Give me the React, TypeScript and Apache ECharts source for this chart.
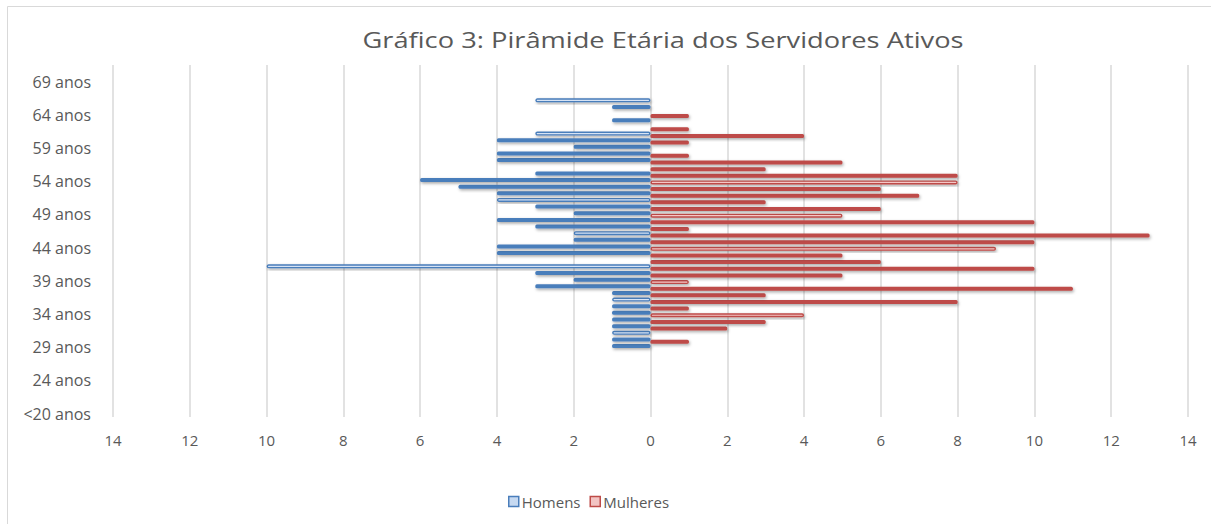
import React, { useEffect, useRef } from "react";
import * as echarts from "echarts";

const categories = [
  "<20 anos", "20 anos", "21 anos", "22 anos", "23 anos", "24 anos", "25 anos", "26 anos", "27 anos", "28 anos",
  "29 anos", "30 anos", "31 anos", "32 anos", "33 anos", "34 anos", "35 anos", "36 anos", "37 anos", "38 anos",
  "39 anos", "40 anos", "41 anos", "42 anos", "43 anos", "44 anos", "45 anos", "46 anos", "47 anos", "48 anos",
  "49 anos", "50 anos", "51 anos", "52 anos", "53 anos", "54 anos", "55 anos", "56 anos", "57 anos", "58 anos",
  "59 anos", "60 anos", "61 anos", "62 anos", "63 anos", "64 anos", "65 anos", "66 anos", "67 anos", "68 anos",
  "69 anos", "70 anos", ">70 anos",
];

const homens = [
  0, 0, 0, 0, 0, 0, 0, 0, 0, 0,
  1, 1, 1, 1, 1, 1, 1, 1, 1, 3,
  2, 3, 10, 0, 4, 4, 2, 2, 3, 4,
  2, 3, 4, 4, 5, 6, 3, 0, 4, 4,
  2, 4, 3, 0, 1, 0, 1, 3, 0, 0,
  0, 0, 0,
];

const mulheres = [
  0, 0, 0, 0, 0, 0, 0, 0, 0, 0,
  0, 1, 0, 2, 3, 4, 1, 8, 3, 11,
  1, 5, 10, 6, 5, 9, 10, 13, 1, 10,
  5, 6, 3, 7, 6, 8, 8, 3, 5, 1,
  0, 1, 4, 1, 0, 1, 0, 0, 0, 0,
  0, 0, 0,
];

const xTicks = { min: -14, max: 14, interval: 2 };

const title = "Gráfico 3: Pirâmide Etária dos Servidores Ativos";

// bars drawn with an outlined style in the reference
const homensOutlined = [12, 17, 22, 27, 32, 42, 47];
const mulheresOutlined = [15, 20, 25, 30, 35];

const BLUE = "#4a7ebb";
const RED = "#be4b48";
const TEXT = "#595959";
const FONT = "'Open Sans', 'Noto Sans', sans-serif";

export default function App() {
  const ref = useRef<HTMLDivElement>(null);

  useEffect(() => {
    document.body.style.margin = "0";
    if (!ref.current) return;
    const chart = echarts.init(ref.current, null, { renderer: "svg" });

    const shadow = {
      shadowColor: "rgba(0,0,0,0.35)",
      shadowBlur: 3,
      shadowOffsetX: 1,
      shadowOffsetY: 1.5,
    };

    const homensData = homens.map((v, i) => ({
      value: -v,
      itemStyle: homensOutlined.includes(i)
        ? { color: "#d6e3f5", borderColor: BLUE, borderWidth: 1.4 }
        : undefined,
    }));
    const mulheresData = mulheres.map((v, i) => ({
      value: v,
      itemStyle: mulheresOutlined.includes(i)
        ? { color: "#f4c7c6", borderColor: RED, borderWidth: 1.4 }
        : undefined,
    }));

    chart.setOption({
      animation: false,
      textStyle: { fontFamily: FONT },
      graphic: [
        {
          type: "rect",
          shape: { x: 7.5, y: 6.5, width: 1400, height: 700 },
          style: { fill: "none", stroke: "#d9d9d9", lineWidth: 1 },
          silent: true,
        },
        {
          type: "text",
          x: 663,
          y: 40,
          scaleX: 1.24,
          style: {
            text: title,
            fill: TEXT,
            font: `22px ${FONT}`,
            textAlign: "center",
            textVerticalAlign: "middle",
          },
        },
      ],
      legend: {
        left: 503,
        top: 489,
        itemWidth: 10,
        itemHeight: 10,
        itemGap: 9,
        icon: "rect",
        textStyle: { color: TEXT, fontSize: 15, fontFamily: FONT, padding: [0, 0, 0, -2] },
        data: [
          { name: "Homens", itemStyle: { color: "#c6d9f1", borderColor: BLUE, borderWidth: 1.5 } },
          { name: "Mulheres", itemStyle: { color: "#f2c4c3", borderColor: RED, borderWidth: 1.5 } },
        ],
      },
      grid: { left: 113, right: 23, top: 65, bottom: 107, containLabel: false },
      xAxis: {
        type: "value",
        min: xTicks.min,
        max: xTicks.max,
        interval: xTicks.interval,
        axisLine: { show: false },
        axisTick: { show: false },
        axisLabel: {
          color: TEXT,
          fontSize: 15,
          margin: 15,
          fontFamily: FONT,
          formatter: (v: number) => String(Math.abs(v)),
        },
        splitLine: { lineStyle: { color: "#d9d9d9", width: 1.5 } },
      },
      yAxis: {
        type: "category",
        data: categories,
        axisLine: { show: false, onZero: false },
        axisTick: { show: false },
        axisLabel: {
          interval: 4,
          color: TEXT,
          fontSize: 16,
          margin: 22,
          fontFamily: FONT,
        },
        splitLine: { show: false },
      },
      series: [
        {
          name: "Homens",
          type: "bar",
          barWidth: 4,
          barGap: "-40%",
          itemStyle: { color: BLUE, borderRadius: 1.5, ...shadow },
          data: homensData,
        },
        {
          name: "Mulheres",
          type: "bar",
          barWidth: 4,
          barGap: "-40%",
          itemStyle: { color: RED, borderRadius: 1.5, ...shadow },
          data: mulheresData,
        },
      ],
    });

    return () => chart.dispose();
  }, []);

  return <div ref={ref} style={{ width: 1211, height: 524 }} />;
}
